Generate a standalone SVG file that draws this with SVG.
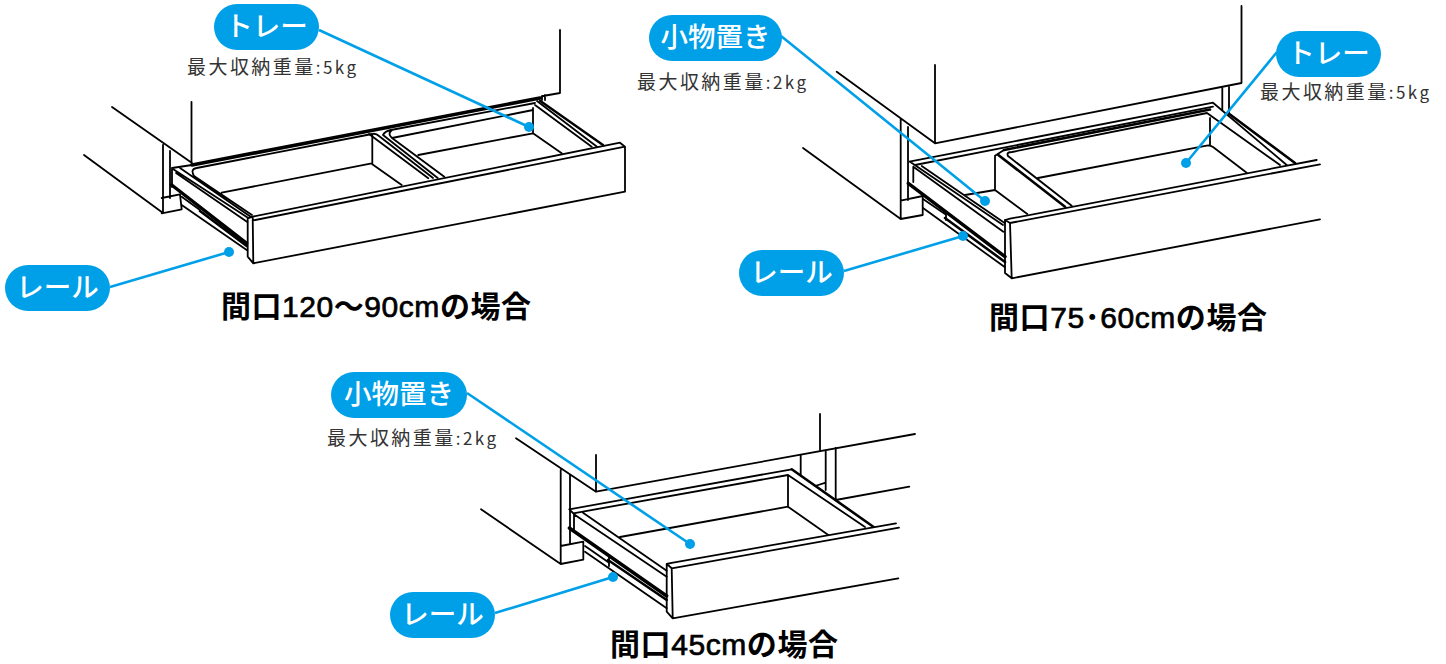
<svg xmlns="http://www.w3.org/2000/svg" width="1446" height="664" viewBox="0 0 1446 664">
<style>
.l{fill:none;stroke:#000;stroke-width:1.8;stroke-linejoin:round;stroke-linecap:round}
.t{stroke-width:3}
.c{fill:none;stroke:#00a0e9;stroke-width:2.6}
.d{fill:#00a0e9}
.p{fill:#00a0e9}
.pt{font-family:"Noto Sans CJK JP","Noto Sans",sans-serif;font-size:27.500px;font-weight:500;fill:#fff;text-anchor:middle}
.w{font-family:"Noto Sans CJK JP","Noto Sans",sans-serif;font-size:19px;fill:#333}
.k{font-size:17px}
.h{font-family:"Noto Sans CJK JP","Noto Sans",sans-serif;font-size:30px;font-weight:700;fill:#000}
.a{font-family:"Liberation Sans",Arial,sans-serif;font-weight:400;stroke:#000;stroke-width:.7}
</style>
<rect width="1446" height="664" fill="#fff"/>
<g id="drawer-120">
<path class="l" d="M112 107L192 163M191.500 102V163M84 155L163 213M163 145V213M170 151V198M172 168V187M172 168L192 165M161.700 198L180 194.300L181.700 209.300L161.700 213.300M560 30V93L543 96M542 96V100M545 95V100"/>
<path class="l t" style="stroke-width:3.600" d="M192 165L365 131.700L540 98"/>
<path class="l" d="M173.300 169.300L248.300 218M176 173L247.300 222M180 168L251 217M196.700 168L372 134Q376 133 379 136L433 178M196.700 168Q190 169 194 176L252 215M221.700 192.700L371.700 163.300M372.300 135V163.300M372.300 164.300L401.700 185"/>
<path class="l" d="M369 134L428.300 178.300M383 135L437.700 178M383 135Q385 131 391 130L535 103M392 130Q387 134 392 138L444.300 176.700M392 138L533 110M418.300 155L533 133.300V108M533 133.300L561.700 153.300M535 105L591.700 146.700"/>
<path class="l t" style="stroke-width:2.400" d="M540 100.700L603 145"/>
<path class="l" d="M537 101L597 146.700"/>
<path class="l" d="M247.700 218.300L252.700 216.700L620 142.700L625 146.700V191.700L253.300 263.300L247.700 256.700ZM252.700 216.700L253.300 263.300M252.700 220.500L625 146.700"/>
<path class="l" style="stroke-width:3.400" d="M171.700 185L246.700 243.300"/>
<path class="l" style="stroke-width:2.600" d="M200 211L246.700 246"/>
<path class="l" d="M181.700 196.700L200 210M181.700 205L246.700 250"/>
</g>
<g id="drawer-75">
<path class="l" d="M836.700 71.700L935 143.300M935 65V143.300L1241.500 83V6M803 148L900.700 219M900.700 119V219M908 127V200M900.700 200.700L922.700 196V215L900.700 219"/>
<path class="l" d="M909.300 161.700L1213 102.700L1286.700 165M910 161.700L1003 225M913.300 166.700L1003.300 231.700M913.300 166.700V182M915 165L1213 106.700M921.700 166L1005 223.300M965 195L995 190V155.700L1004 150M995 190L1027.300 214"/>
<path class="l t" style="stroke-width:2.600" d="M1004 150L1210 109.500M998.300 155L1065 206.700"/>
<path class="l" d="M1008 156Q1006 152 1012 152L1207 113L1280 165M1008 156L1071.700 205.700M1038 178L1206.700 145.700Q1210 145 1213 147L1246.700 172.700M1210 118V145M1222.300 88V110M1229 87V114"/>
<path class="l t" style="stroke-width:2.600" d="M1228 113L1295 163"/>
<path class="l" d="M1005 220L1010 218.700L1316.700 160M1005 220L1005 273L1011.700 278.300L1320 219.300M1010 223L1320 164.300M1010 223L1011.700 278.300M1005 220L1010 223"/>
<path class="l" style="stroke-width:3.400" d="M908.300 183.300L1005 256.700"/>
<path class="l" style="stroke-width:2.600" d="M945 218L1005 262"/>
<path class="l" d="M923 199L945 214M923 208L1005 267.300M946 212V220"/>
</g>
<g id="drawer-45">
<path class="l" d="M516 438.300L596 491.700M596 455V491.700L915 434M481 509.300L560.700 564M560.700 470V564M570 475V544M560.700 546L583.300 541.700V559.700L560.700 564"/>
<path class="l" d="M569.300 509.300L791.700 469.300M573.300 513.300L788 475V506.700L620 537M569.300 509.300L575 515M574 515V530M583 512.700L666.700 570.700M575 515L666.700 576.700M788 506.700L828.300 535M788 475L865 527M800.700 455V476M825.700 450.700V490M820 414V450.700M815 486L825.700 482.700M835.700 448V500L909.300 486.700"/>
<path class="l t" style="stroke-width:2.600" d="M791.700 469.300L873.300 526.700"/>
<path class="l" d="M666.700 564L671.700 562.800L896 523.300M666.700 564V611.700L672.700 618.300L898.300 578.300M671.700 568.300L899 527.700M671.700 568.300L672.700 618.300M666.700 564L671.700 568.300"/>
<path class="l" style="stroke-width:3.400" d="M569.300 528L666.700 596"/>
<path class="l" style="stroke-width:2.600" d="M608 560L666.700 600"/>
<path class="l" d="M585 546L608 562M585 551.700L666.700 608.300M609 555V566"/>
</g>
<g id="connectors">
<path class="c" d="M319 30L529 127M110 287L229 252M781 36L985 201M1277 52L1186 163M844 271L963 236M467 393L690 544M495 613L613 577"/>
<circle class="d" cx="529" cy="127" r="5"/><circle class="d" cx="229" cy="252" r="5"/><circle class="d" cx="985" cy="201" r="5"/><circle class="d" cx="1186" cy="163" r="5"/><circle class="d" cx="963" cy="236" r="5"/><circle class="d" cx="690" cy="544" r="5"/><circle class="d" cx="613" cy="577" r="5"/>
</g>
<g id="label-tray-120"><rect class="p" x="214" y="4" width="105" height="46" rx="23"/><text class="pt" x="266.500" y="36">トレー</text><text class="w" x="187" y="74" textLength="169">最大収納重量<tspan class="k">:5kg</tspan></text></g>
<g id="label-rail-120"><rect class="p" x="5" y="265" width="105" height="46" rx="23"/><text class="pt" x="57.500" y="297">レール</text></g>
<g id="label-small-75"><rect class="p" x="649" y="15" width="133" height="46" rx="23"/><text class="pt" x="715.500" y="47">小物置き</text><text class="w" x="637" y="89" textLength="169">最大収納重量<tspan class="k">:2kg</tspan></text></g>
<g id="label-tray-75"><rect class="p" x="1276" y="31" width="105" height="46" rx="23"/><text class="pt" x="1328.500" y="63">トレー</text><text class="w" x="1260" y="99" textLength="169">最大収納重量<tspan class="k">:5kg</tspan></text></g>
<g id="label-rail-75"><rect class="p" x="739" y="250" width="105" height="46" rx="23"/><text class="pt" x="791.500" y="282">レール</text></g>
<g id="label-small-45"><rect class="p" x="331" y="372" width="136" height="46" rx="23"/><text class="pt" x="399" y="404">小物置き</text><text class="w" x="327" y="445" textLength="169">最大収納重量<tspan class="k">:2kg</tspan></text></g>
<g id="label-rail-45"><rect class="p" x="390" y="592" width="105" height="46" rx="23"/><text class="pt" x="442.500" y="624">レール</text></g>
<text class="h" x="221" y="317" textLength="310">間口<tspan class="a">120</tspan>〜<tspan class="a">90cm</tspan>の場合</text>
<text class="h" x="989" y="328" textLength="278">間口<tspan class="a">75</tspan>･<tspan class="a">60cm</tspan>の場合</text>
<text class="h" x="610" y="655" textLength="228">間口<tspan class="a">45cm</tspan>の場合</text>
</svg>
